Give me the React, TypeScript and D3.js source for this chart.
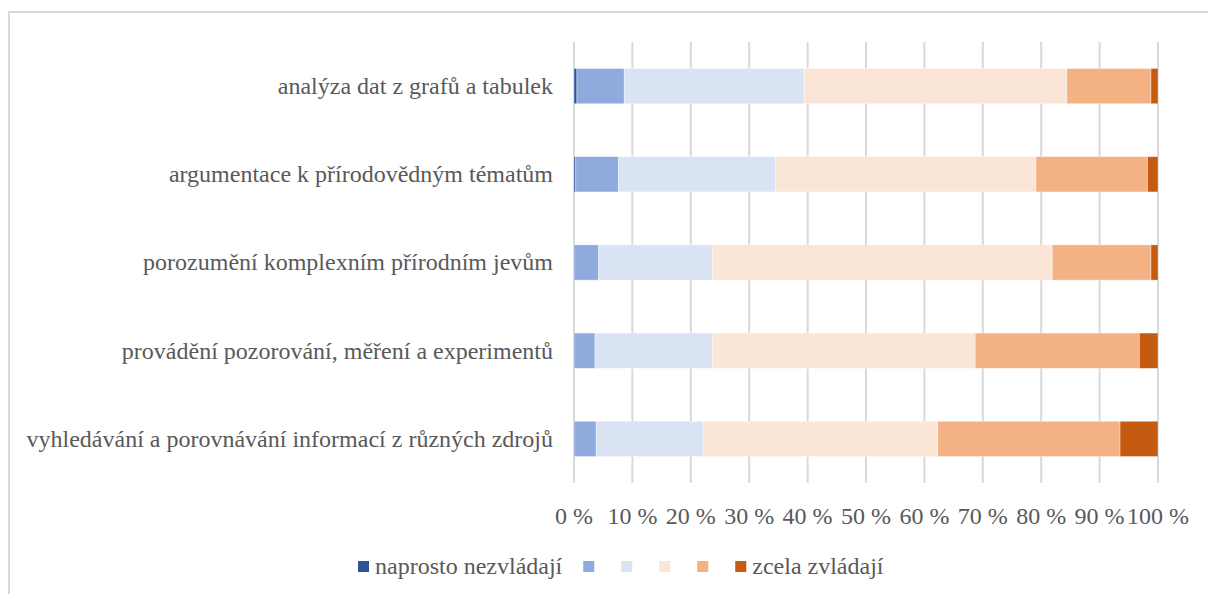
import React, { useEffect, useRef } from "react";
import * as d3 from "d3";

const categories = [
  "analýza dat z grafů a tabulek",
  "argumentace k přírodovědným tématům",
  "porozumění komplexním přírodním jevům",
  "provádění pozorování, měření a experimentů",
  "vyhledávání a porovnávání informací z různých zdrojů",
];

const seriesNames = ["naprosto nezvládají", "", "", "", "", "zcela zvládají"];

// share of pupils per level, % (rows follow categories)
const level1 = [0.5, 0.3, 0, 0, 0];
const level2 = [8.1, 7.3, 4.2, 3.6, 3.8];
const level3 = [30.8, 26.9, 19.5, 20.1, 18.3];
const level4 = [45.0, 44.6, 58.2, 45.0, 40.2];
const level5 = [14.4, 19.1, 16.9, 28.1, 31.2];
const level6 = [1.2, 1.8, 1.2, 3.2, 6.5];

const tickValues = [0, 10, 20, 30, 40, 50, 60, 70, 80, 90, 100];

const colors = ["#2F5597", "#8FAADC", "#DAE3F3", "#FBE5D6", "#F4B183", "#C55A11"];

const App = () => {
  const ref = useRef<SVGSVGElement>(null);

  useEffect(() => {
    const W = 1208,
      H = 594;
    const margin = { top: 42, left: 574, right: 50, bottom: 111 };
    const font = "Liberation Serif, Tinos, DejaVu Serif, serif";
    const textColor = "#595959";

    const svg = d3.select(ref.current);
    svg.selectAll("*").remove();

    // chart frame (only top and left edges fall inside the window)
    svg
      .append("rect")
      .attr("x", 9)
      .attr("y", 12)
      .attr("width", 1400)
      .attr("height", 800)
      .attr("fill", "#fff")
      .attr("stroke", "#d9d9d9")
      .attr("stroke-width", 2);

    const x = d3
      .scaleLinear()
      .domain([0, 100])
      .range([margin.left, W - margin.right]);

    const y = d3
      .scaleBand<string>()
      .domain(categories)
      .range([margin.top, H - margin.bottom])
      .paddingInner(0.6)
      .paddingOuter(0.3);

    // gridlines
    svg
      .append("g")
      .selectAll("line")
      .data(tickValues)
      .join("line")
      .attr("x1", (d) => x(d))
      .attr("x2", (d) => x(d))
      .attr("y1", margin.top)
      .attr("y2", H - margin.bottom)
      .attr("stroke", "#d9d9d9")
      .attr("stroke-width", 2);

    // stacked bars
    const levels = [level1, level2, level3, level4, level5, level6];
    const rows = categories.map((c, i) => {
      const r: any = { cat: c };
      levels.forEach((l, k) => (r["s" + k] = l[i]));
      return r;
    });
    const keys = levels.map((_, k) => "s" + k);
    const stacked = d3.stack().keys(keys)(rows);

    svg
      .append("g")
      .selectAll("g")
      .data(stacked)
      .join("g")
      .attr("fill", (_, i) => colors[i])
      .selectAll("rect")
      .data((d) => d)
      .join("rect")
      .attr("x", (d) => x(d[0]))
      .attr("width", (d) => Math.max(0, x(d[1]) - x(d[0])))
      .attr("y", (d: any) => y(d.data.cat)!)
      .attr("height", y.bandwidth())
      .attr("stroke", "#fff")
      .attr("stroke-opacity", 0.5)
      .attr("stroke-width", (d) => (d[1] - d[0] > 0 ? 0.75 : 0));

    // category labels
    svg
      .append("g")
      .selectAll("text")
      .data(categories)
      .join("text")
      .attr("x", 553)
      .attr("y", (d) => y(d)! + y.bandwidth() / 2)
      .attr("dy", "0.33em")
      .attr("text-anchor", "end")
      .style("font-family", font)
      .attr("font-size", 24)
      .attr("fill", textColor)
      .text((d) => d);

    // x tick labels
    svg
      .append("g")
      .selectAll("text")
      .data(tickValues)
      .join("text")
      .attr("x", (d) => x(d))
      .attr("y", 524)
      .attr("text-anchor", "middle")
      .style("font-family", font)
      .attr("font-size", 24)
      .attr("fill", textColor)
      .text((d) => d + "\u00a0%");

    // legend
    const legend = svg.append("g");
    let lx = 358;
    seriesNames.forEach((name, i) => {
      legend
        .append("rect")
        .attr("x", lx)
        .attr("y", 561)
        .attr("width", 11)
        .attr("height", 11)
        .attr("fill", colors[i]);
      let w = 11;
      if (name) {
        const t = legend
          .append("text")
          .attr("x", lx + 17)
          .attr("y", 574)
          .style("font-family", font)
          .attr("font-size", 24)
          .attr("fill", textColor)
          .text(name);
        w += 6 + (t.node() as SVGTextElement).getComputedTextLength();
      }
      lx += w + (name ? 21 : 27);
    });
  }, []);

  return (
    <svg
      ref={ref}
      width={1208}
      height={594}
      style={{ position: "absolute", left: 0, top: 0, background: "#fff" }}
    />
  );
};

export default App;
